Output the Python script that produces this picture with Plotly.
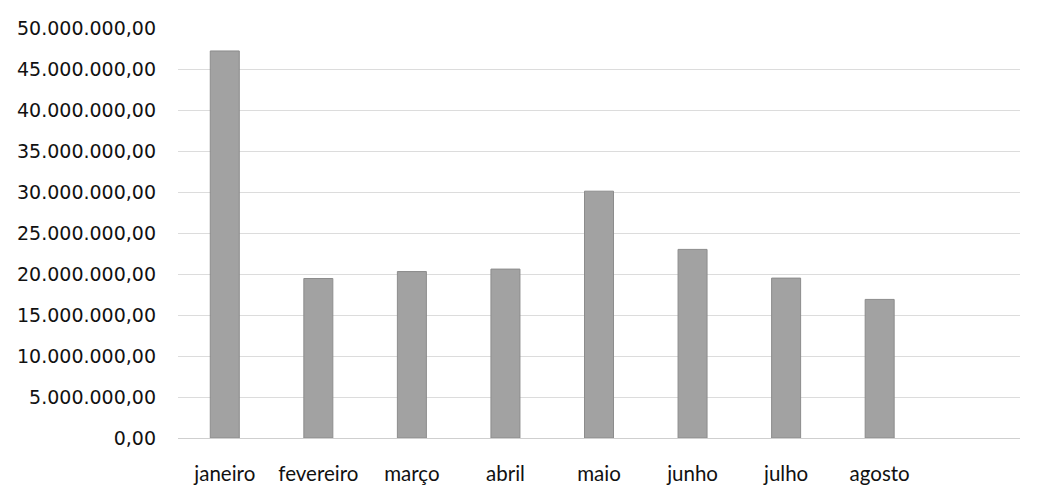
import plotly.graph_objects as go

months = ["janeiro", "fevereiro", "março", "abril", "maio", "junho", "julho", "agosto"]
values = [47200000, 19450000, 20300000, 20600000, 30100000, 23000000, 19500000, 16900000]

fig = go.Figure()
fig.add_trace(go.Bar(
    x=months, y=values,
    marker=dict(color="#a2a2a2", line=dict(color="#8c8c8c", width=1)),
    width=0.31,
))

# page body has an 8px margin; keep the figure inside the 1037x504 window
fig.update_layout(
    width=1021, height=488,
    margin=dict(l=168, r=9, t=14, b=58),
    paper_bgcolor="white", plot_bgcolor="white",
    separators=",.",
    showlegend=False,
)
fig.update_yaxes(
    range=[0, 50000000], dtick=5000000, tickformat=",.2f",
    showgrid=True, gridcolor="#dcdcdc", gridwidth=1,
    zeroline=True, zerolinecolor="#cfcfcf", zerolinewidth=1,
    showline=False, ticks="",
    tickfont=dict(family="DejaVu Sans", size=19, color="#111111"),
    ticklabelstandoff=21,
)
fig.update_xaxes(
    range=[-0.5, 8.5],
    showgrid=False, showline=False, ticks="",
    tickfont=dict(family="Lato", size=20.5, color="#111111"),
    ticklabelstandoff=21,
)

fig.write_html("out.html")
